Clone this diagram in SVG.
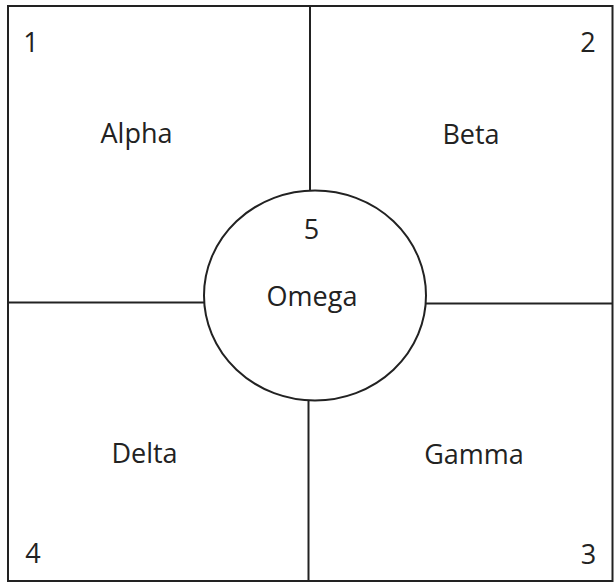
<svg xmlns="http://www.w3.org/2000/svg" width="615" height="584" viewBox="0 0 615 584">
<style>
.ln{stroke:#222;stroke-width:2;fill:none}
.t{font-family:"Open Sans","Noto Sans",sans-serif;font-size:27px;fill:#222;text-anchor:middle}
</style>
<rect x="0" y="0" width="615" height="584" fill="#fff"/>
<g id="frame">
<rect class="ln" x="8" y="6" width="604.5" height="575"/>
</g>
<g id="connectors">
<line class="ln" x1="310" y1="6" x2="310" y2="190.5"/>
<line class="ln" x1="308.5" y1="400.5" x2="308.5" y2="581"/>
<line class="ln" x1="8" y1="302.5" x2="204" y2="302.5"/>
<line class="ln" x1="426" y1="303.5" x2="612.5" y2="303.5"/>
</g>
<g id="node-alpha"><text class="t" x="136.5" y="143">Alpha</text><text class="t" x="31" y="52">1</text></g>
<g id="node-beta"><text class="t" x="471" y="144">Beta</text><text class="t" x="588" y="52">2</text></g>
<g id="node-gamma"><text class="t" x="474" y="464">Gamma</text><text class="t" x="588.5" y="564">3</text></g>
<g id="node-delta"><text class="t" x="144.5" y="463">Delta</text><text class="t" x="33" y="563">4</text></g>
<g id="node-omega">
<ellipse class="ln" cx="315" cy="295.5" rx="111" ry="105"/>
<text class="t" x="311.5" y="239">5</text>
<text class="t" x="312" y="306">Omega</text>
</g>
</svg>
